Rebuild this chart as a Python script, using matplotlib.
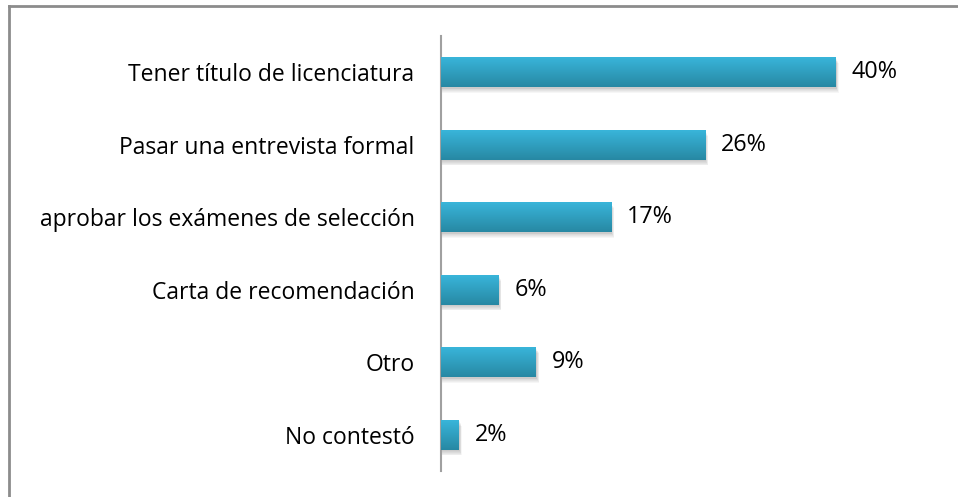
import matplotlib.pyplot as plt
import numpy as np
from matplotlib.colors import LinearSegmentedColormap
from matplotlib.lines import Line2D
from matplotlib.patches import Rectangle

plt.rcParams['font.family'] = ['Open Sans', 'DejaVu Sans']

# Data (top to bottom)
categories = ['Tener título de licenciatura', 'Pasar una entrevista formal',
              'aprobar los exámenes de selección', 'Carta de recomendación',
              'Otro', 'No contestó']
values = [39.9, 26.7, 17.2, 5.8, 9.6, 1.8]
value_labels = ['40%', '26%', '17%', '6%', '9%', '2%']

fig = plt.figure(figsize=(9.58, 4.97), dpi=100)
W, H = 958, 497
ax = fig.add_axes([441 / W, 26 / H, 445 / W, 435 / H])

ypos = np.arange(len(categories))
bar_h = 0.41

grad = LinearSegmentedColormap.from_list('g', ['#39b5da', '#2788a3'])
img = np.linspace(0, 1, 100).reshape(-1, 1)

for y, v, lab in zip(ypos, values, value_labels):
    # soft shadow
    for k in range(6):
        ax.add_patch(Rectangle((0, y - bar_h / 2 + 0.02 + k * 0.012), v + 0.1 + k * 0.04, bar_h,
                               facecolor='black', alpha=0.035, edgecolor='none', zorder=1))
    rect = Rectangle((0, y - bar_h / 2), v, bar_h, facecolor='none', edgecolor='none', zorder=2)
    ax.add_patch(rect)
    im = ax.imshow(img, cmap=grad, aspect='auto', extent=(0, v, y + bar_h / 2, y - bar_h / 2),
                   zorder=3)
    im.set_clip_path(rect)
    ax.text(v + 1.6, y, lab, va='center', ha='left', fontsize=16.8, color='black')

ax.set_xlim(0, 45)
ax.set_ylim(len(categories) - 0.5, -0.5)

ax.set_yticks(ypos)
ax.set_yticklabels(categories, fontsize=16.5)
ax.tick_params(axis='y', length=0, pad=19)
ax.set_xticks([])
for s in ['top', 'right', 'bottom']:
    ax.spines[s].set_visible(False)
ax.spines['left'].set_color('#a0a0a0')
ax.spines['left'].set_linewidth(1.5)

# chart frame (top and left edges)
fig.add_artist(Line2D([9 / W, 1], [1 - 6 / H, 1 - 6 / H], transform=fig.transFigure,
                      color='#8c8c8c', linewidth=2))
fig.add_artist(Line2D([9 / W, 9 / W], [0, 1 - 6 / H], transform=fig.transFigure,
                      color='#8c8c8c', linewidth=2))

plt.savefig('out.png', dpi=100)
